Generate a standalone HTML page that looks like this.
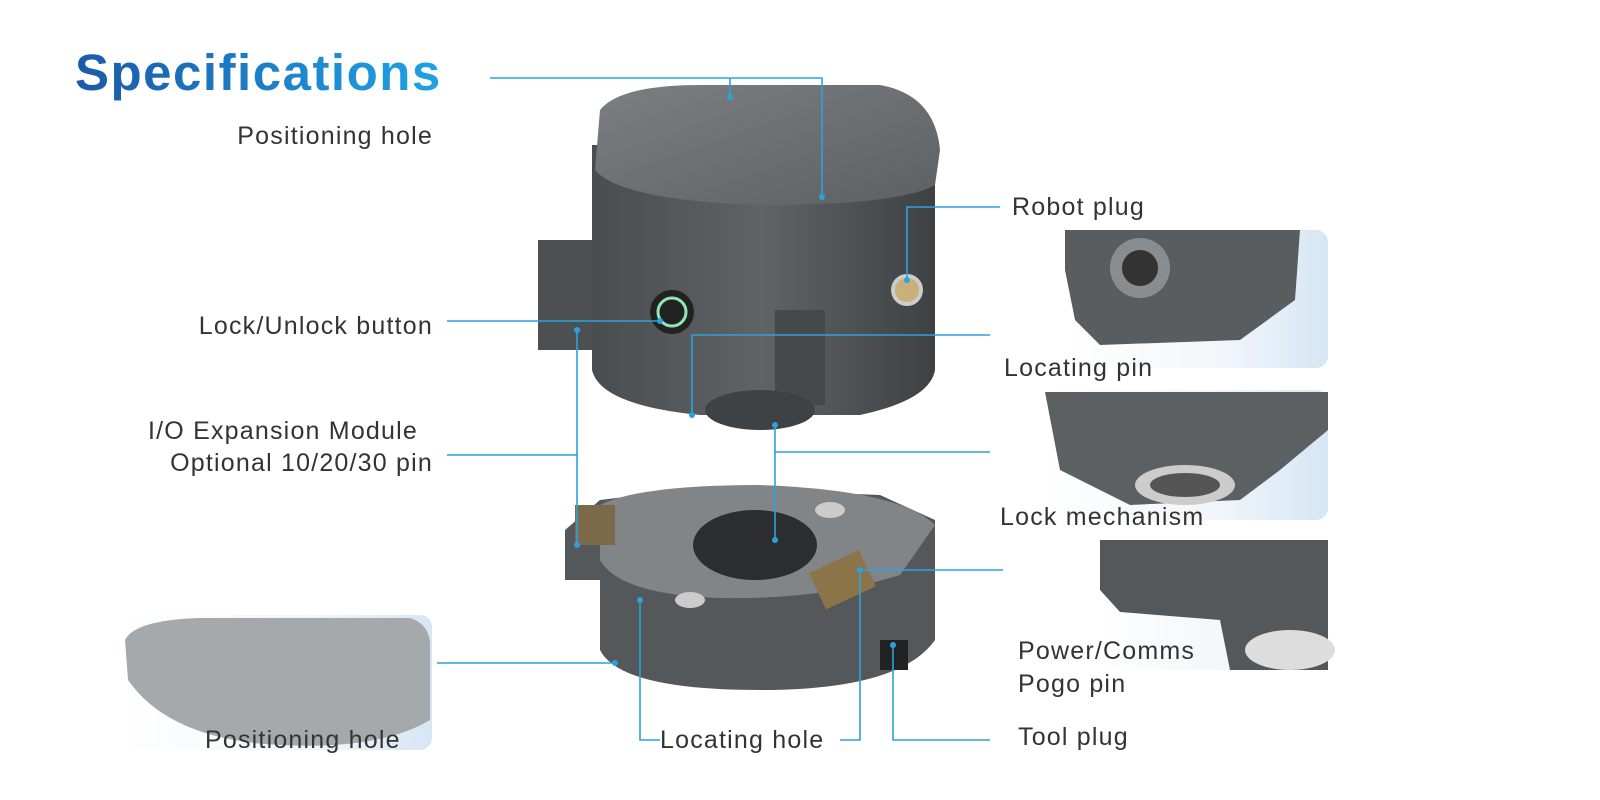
<!DOCTYPE html>
<html><head><meta charset="utf-8"><style>
html,body{margin:0;padding:0;background:#fff;}
body{width:1600px;height:800px;position:relative;overflow:hidden;font-family:"Liberation Sans",sans-serif;}
.t{position:absolute;font-size:25px;letter-spacing:1.2px;color:#333;white-space:nowrap;line-height:1;}
.r{text-align:right;}
h1{position:absolute;left:75px;top:43px;margin:0;font-size:51px;letter-spacing:1.5px;font-weight:bold;
background:linear-gradient(90deg,#1a5aa8,#1fa3e3);-webkit-background-clip:text;background-clip:text;color:transparent;}
svg{position:absolute;left:0;top:0;}
</style></head><body>
<svg width="1600" height="800" viewBox="0 0 1600 800">
<defs>
<linearGradient id="ins" x1="0" x2="1" y1="0" y2="0"><stop offset="0" stop-color="#fff"/><stop offset="0.6" stop-color="#f2f6fa"/><stop offset="1" stop-color="#d6e6f5"/></linearGradient>
<linearGradient id="body" x1="0" x2="1"><stop offset="0" stop-color="#4a4d50"/><stop offset="0.5" stop-color="#606366"/><stop offset="1" stop-color="#3e4144"/></linearGradient>
<linearGradient id="top" x1="0" x2="1" y1="0" y2="1"><stop offset="0" stop-color="#7c7f82"/><stop offset="1" stop-color="#5d6063"/></linearGradient>
</defs>
<rect x="1065" y="230" width="263" height="138" rx="12" fill="url(#ins)"/>
<path d="M1065 230 L1300 230 L1295 300 L1240 340 L1100 345 L1075 320 L1065 270Z" fill="#5a5d60"/>
<circle cx="1140" cy="268" r="30" fill="#8a8d90"/><circle cx="1140" cy="268" r="18" fill="#333"/>
<rect x="1040" y="390" width="288" height="130" rx="12" fill="url(#ins)"/>
<path d="M1045 392 L1328 392 L1328 430 L1280 470 L1240 500 L1130 505 L1060 470Z" fill="#5d6063"/>
<ellipse cx="1185" cy="485" rx="50" ry="20" fill="#ccc"/><ellipse cx="1185" cy="485" rx="35" ry="12" fill="#555"/>
<rect x="1098" y="540" width="230" height="130" rx="12" fill="url(#ins)"/>
<path d="M1100 540 L1328 540 L1328 670 L1230 670 L1220 620 L1120 612 L1100 590Z" fill="#55585b"/>
<ellipse cx="1290" cy="650" rx="45" ry="20" fill="#ddd"/>
<rect x="125" y="615" width="307" height="135" rx="12" fill="url(#ins)"/>
<path d="M125 640 Q135 620 200 618 L410 618 Q432 625 430 650 L430 720 Q380 750 280 745 Q170 740 128 680Z" fill="#a6a9ac"/>
<path d="M538 240 L600 240 L600 350 L538 350Z" fill="#4d5053"/>
<path d="M592 145 L592 370 Q600 405 700 415 L860 415 Q930 400 935 370 L935 145Z" fill="url(#body)"/>
<path d="M600 110 Q620 85 700 85 L880 85 Q935 95 940 150 L935 185 Q900 205 760 205 Q620 200 595 170Z" fill="url(#top)"/>
<rect x="775" y="310" width="50" height="95" fill="#46494c"/>
<ellipse cx="760" cy="410" rx="55" ry="20" fill="#3f4245"/>
<circle cx="672" cy="312" r="22" fill="#222"/><circle cx="672" cy="312" r="14" fill="none" stroke="#8fe8b0" stroke-width="3"/>
<circle cx="907" cy="290" r="14" fill="#c9b07a" stroke="#ccc" stroke-width="4"/>
<path d="M565 530 L600 500 L700 488 L880 495 L935 520 L935 640 Q900 690 760 690 Q620 690 600 650 L600 580 L565 580Z" fill="#55585b"/>
<path d="M600 505 Q640 485 760 485 Q900 490 935 525 L900 575 Q820 600 720 598 Q620 595 600 560Z" fill="#828588"/>
<ellipse cx="755" cy="545" rx="62" ry="35" fill="#2b2d2f"/>
<rect x="575" y="505" width="40" height="40" fill="#7a6a4a"/>
<rect x="815" y="560" width="55" height="40" fill="#8a7448" transform="rotate(-25 842 580)"/>
<ellipse cx="830" cy="510" rx="15" ry="8" fill="#ccc"/><ellipse cx="690" cy="600" rx="15" ry="8" fill="#ccc"/>
<rect x="880" y="640" width="28" height="30" fill="#222"/>
<g stroke="#2aa3dc" stroke-width="1.6" fill="none">
<path d="M490 78 H822 V197"/><path d="M730 78 V97"/>
<path d="M1000 207 H907 V280"/>
<path d="M447 321 H660"/>
<path d="M990 335 H692 V415"/>
<path d="M447 455 H577"/><path d="M577 330 V545"/>
<path d="M990 452 H775 V425"/><path d="M775 452 V540"/>
<path d="M1003 570 H860 V740 H840"/>
<path d="M640 600 V740 H660"/>
<path d="M893 645 V740 H990"/>
<path d="M437 663 H615"/>
</g>
<g fill="#2aa3dc">
<circle cx="730" cy="97" r="3"/><circle cx="822" cy="197" r="3"/><circle cx="907" cy="280" r="3"/>
<circle cx="660" cy="321" r="3"/><circle cx="692" cy="415" r="3"/><circle cx="577" cy="330" r="3"/>
<circle cx="577" cy="545" r="3"/><circle cx="775" cy="425" r="3"/><circle cx="775" cy="540" r="3"/>
<circle cx="860" cy="570" r="3"/><circle cx="640" cy="600" r="3"/><circle cx="893" cy="645" r="3"/><circle cx="615" cy="663" r="3"/>
</g>
</svg>
<h1>Specifications</h1>
<div class="t r" style="right:1167px;top:124px">Positioning hole</div>
<div class="t r" style="right:1167px;top:314px">Lock/Unlock button</div>
<div class="t r" style="right:1182px;top:419px">I/O Expansion Module</div>
<div class="t r" style="right:1167px;top:451px">Optional 10/20/30 pin</div>
<div class="t" style="left:1012px;top:195px">Robot plug</div>
<div class="t" style="left:1004px;top:356px">Locating pin</div>
<div class="t" style="left:1000px;top:505px">Lock mechanism</div>
<div class="t" style="left:1018px;top:639px">Power/Comms</div>
<div class="t" style="left:1018px;top:672px">Pogo pin</div>
<div class="t" style="left:1018px;top:725px">Tool plug</div>
<div class="t" style="left:660px;top:728px">Locating hole</div>
<div class="t" style="left:205px;top:728px">Positioning hole</div>
</body></html>
